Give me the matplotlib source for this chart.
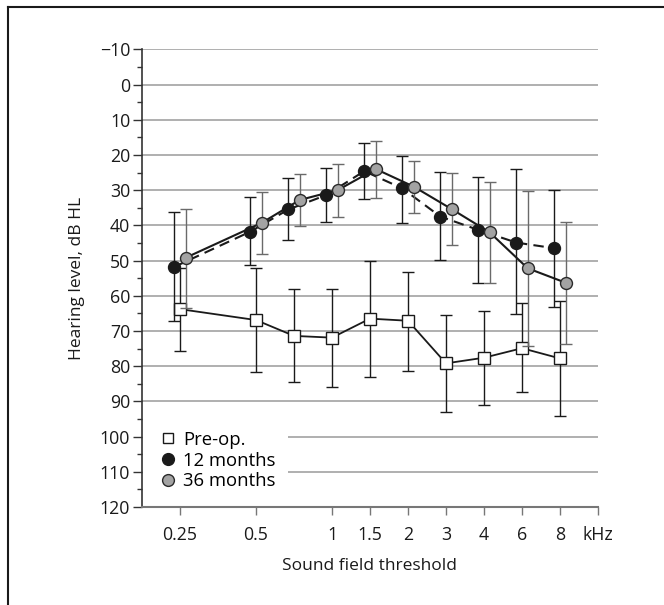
import matplotlib
matplotlib.use("Agg")
import matplotlib.pyplot as plt
from matplotlib.lines import Line2D
from matplotlib.patches import Rectangle
import numpy as np

plt.rcParams['font.family'] = ['Open Sans', 'DejaVu Sans']

# frequencies (kHz) and their positions on the octave-like axis
freqs = ['0.25', '0.5', '0.75', '1', '1.5', '2', '3', '4', '6', '8']
pos = np.array([1, 3, 4, 5, 6, 7, 8, 9, 10, 11])
tick_pos = [1, 3, 5, 6, 7, 8, 9, 10, 11, 12]
tick_labels = ['0.25', '0.5', '1', '1.5', '2', '3', '4', '6', '8', 'kHz']

# pre-op mean and error bar ends (dB HL)
preop = [63.8, 66.9, 71.4, 71.9, 66.5, 67.1, 79.2, 77.6, 74.9, 77.8]
preop_lo = [52.0, 52.0, 58.2, 58.1, 50.1, 53.2, 65.5, 64.3, 62.2, 61.5]
preop_hi = [75.6, 81.7, 84.4, 86.0, 83.0, 81.3, 93.1, 91.0, 87.4, 94.1]

# 12 months
m12 = [51.8, 41.8, 35.5, 31.4, 24.6, 29.5, 37.5, 41.3, 44.9, 46.5]
m12_lo = [36.3, 31.9, 26.6, 23.8, 16.5, 20.2, 24.9, 26.2, 24.0, 30.0]
m12_hi = [67.1, 51.3, 44.2, 39.0, 32.5, 39.2, 49.9, 56.5, 65.3, 63.3]

# 36 months
m36 = [49.2, 39.3, 32.8, 30.0, 24.0, 29.0, 35.4, 42.0, 52.2, 56.3]
m36_lo = [35.4, 30.6, 25.5, 22.7, 16.0, 21.8, 25.2, 27.6, 30.2, 39.0]
m36_hi = [63.5, 48.0, 40.2, 37.6, 32.2, 36.6, 45.6, 56.3, 74.2, 73.8]


def err(mean, lo, hi):
    mean = np.array(mean)
    return [mean - np.array(lo), np.array(hi) - mean]


fig = plt.figure(figsize=(6.64, 6.05), dpi=100)
ax = fig.add_axes([142 / 664, 1 - 507 / 605, 456 / 664, (507 - 49.3) / 605])

for y in range(-10, 120, 10):
    ax.axhline(y, color='#9a9a9a', lw=1.1, zorder=0)

# white patch behind the legend hides the grid there
ax.add_patch(Rectangle((0, 93), 3.84, 26.5, facecolor='white', edgecolor='none', zorder=1))

ax.errorbar(pos, preop, yerr=err(preop, preop_lo, preop_hi), color='#1a1a1a',
            lw=1.3, marker='s', ms=8, mfc='white', mec='#1a1a1a', mew=1.0,
            ecolor='#1a1a1a', elinewidth=1.0, capsize=4, capthick=1.0, zorder=3)
ax.errorbar(pos - 0.15, m12, yerr=err(m12, m12_lo, m12_hi), color='#1a1a1a',
            lw=1.5, ls=(0, (5, 3)), marker='o', ms=8.6, mfc='#1a1a1a', mec='#1a1a1a',
            ecolor='#1a1a1a', elinewidth=1.0, capsize=4, capthick=1.0, zorder=4)
ax.errorbar(pos + 0.15, m36, yerr=err(m36, m36_lo, m36_hi), color='#1a1a1a',
            lw=1.5, marker='o', ms=8.6, mfc='#a3a3a3', mec='#2a2a2a', mew=1.0,
            ecolor='#6a6a6a', elinewidth=1.0, capsize=4, capthick=1.0, zorder=5)

ax.set_xlim(0, 12)
ax.set_ylim(120, -10)
ax.set_yticks(range(-10, 121, 10))
ax.set_yticklabels(['\u221210'] + [str(v) for v in range(0, 121, 10)])
ax.set_yticks(range(-5, 120, 10), minor=True)
ax.set_xticks(tick_pos)
ax.set_xticklabels(tick_labels)

for s in ['top', 'right']:
    ax.spines[s].set_visible(False)
ax.spines['left'].set_color('#333333')
ax.spines['left'].set_linewidth(1.2)
ax.spines['bottom'].set_color('#777777')
ax.spines['bottom'].set_linewidth(1.5)

ax.tick_params(axis='y', which='major', length=6.5, width=1.0, color='#333333',
               labelsize=12.8, pad=2, labelcolor='#1a1a1a')
ax.tick_params(axis='y', which='minor', length=3.6, width=1.0, color='#333333')
ax.tick_params(axis='x', length=5.8, width=1.0, color='#777777', labelsize=12.8,
               pad=8, labelcolor='#1a1a1a')

ax.set_ylabel('Hearing level, dB HL', fontsize=12.5, labelpad=11, color='#1a1a1a')
ax.set_xlabel('Sound field threshold', fontsize=12.5, labelpad=10, color='#1a1a1a')

handles = [
    Line2D([], [], ls='none', marker='s', ms=7.5, mfc='white', mec='#1a1a1a', mew=1.0),
    Line2D([], [], ls='none', marker='o', ms=8.5, mfc='#1a1a1a', mec='#1a1a1a'),
    Line2D([], [], ls='none', marker='o', ms=8.5, mfc='#a3a3a3', mec='#2a2a2a'),
]
leg = ax.legend(handles, ['Pre-op.', '12 months', '36 months'], loc='upper left',
                bbox_to_anchor=(0.04, 0.167), fontsize=13.3, frameon=False,
                handlelength=0.8, handletextpad=0.45, labelspacing=0.16,
                borderpad=0.0, borderaxespad=0.0)
leg.set_zorder(6)

# partial frame of the original figure panel
fig.add_artist(Line2D([8 / 664, 1], [1 - 7 / 605, 1 - 7 / 605], color='#1a1a1a', lw=1.5,
                      transform=fig.transFigure))
fig.add_artist(Line2D([8 / 664, 8 / 664], [0, 1 - 7 / 605], color='#1a1a1a', lw=1.5,
                      transform=fig.transFigure))

fig.savefig('out.png', dpi=100)
